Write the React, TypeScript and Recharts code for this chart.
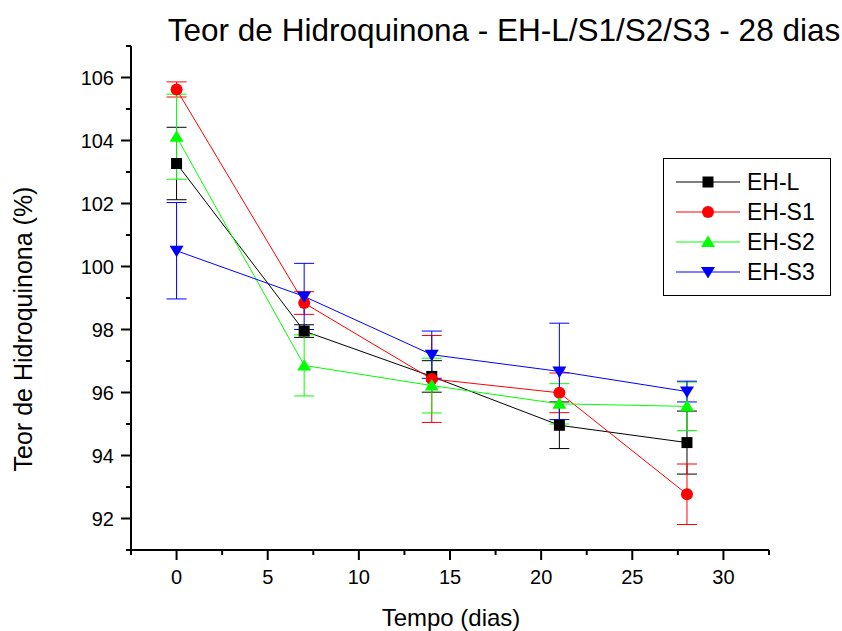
import React from "react";
import {
  LineChart,
  Line,
  XAxis,
  YAxis,
  ErrorBar,
  Legend,
  Label,
} from "recharts";

const days = [0, 7, 14, 21, 28];
const ehL = [103.27, 97.95, 96.51, 94.96, 94.41];
const ehLErr = [1.15, 0.2, 0.5, 0.74, 1.0];
const ehS1 = [105.62, 98.84, 96.43, 95.99, 92.77];
const ehS1Err = [0.24, 0.36, 1.38, 0.63, 0.96];
const ehS2 = [104.12, 96.86, 96.22, 95.64, 95.56];
const ehS2Err = [1.35, 0.97, 0.87, 0.64, 0.77];
const ehS3 = [100.5, 99.05, 97.2, 96.67, 96.03];
const ehS3Err = [1.53, 1.05, 0.75, 1.53, 0.33];

const xTicks = [-2.5, 0, 2.5, 5, 7.5, 10, 12.5, 15, 17.5, 20, 22.5, 25, 27.5, 30, 32.5];
const yTicks = [91, 92, 93, 94, 95, 96, 97, 98, 99, 100, 101, 102, 103, 104, 105, 106, 107];

const data = days.map((d, i) => ({
  day: d,
  ehL: ehL[i],
  ehLErr: ehLErr[i],
  ehS1: ehS1[i],
  ehS1Err: ehS1Err[i],
  ehS2: ehS2[i],
  ehS2Err: ehS2Err[i],
  ehS3: ehS3[i],
  ehS3Err: ehS3Err[i],
}));

const FONT = '"Liberation Sans", Arial, sans-serif';

const series = [
  { key: "ehL", name: "EH-L", color: "#000000", shape: "square" },
  { key: "ehS1", name: "EH-S1", color: "#FF0000", shape: "circle" },
  { key: "ehS2", name: "EH-S2", color: "#00FF00", shape: "up" },
  { key: "ehS3", name: "EH-S3", color: "#0000FF", shape: "down" },
];

function Marker({ cx, cy, shape, color }: { cx: number; cy: number; shape: string; color: string }) {
  if (cx == null || cy == null) return null;
  if (shape === "square")
    return <rect x={cx - 5.5} y={cy - 5.5} width={11} height={11} fill={color} />;
  if (shape === "circle") return <circle cx={cx} cy={cy} r={6} fill={color} />;
  if (shape === "up")
    return <polygon points={`${cx},${cy - 6.5} ${cx - 7},${cy + 5} ${cx + 7},${cy + 5}`} fill={color} />;
  return <polygon points={`${cx},${cy + 6.5} ${cx - 7},${cy - 5} ${cx + 7},${cy - 5}`} fill={color} />;
}

function XTick(props: any) {
  const { x, y, payload } = props;
  const major = payload.value % 5 === 0;
  return (
    <g>
      <line x1={x} x2={x} y1={y} y2={y + (major ? 10 : 5)} stroke="#000" strokeWidth={2} />
      {major && (
        <text x={x} y={y + 34} textAnchor="middle" fontSize={20} fontFamily={FONT} fill="#000">
          {payload.value}
        </text>
      )}
    </g>
  );
}

function YTick(props: any) {
  const { x, y, payload } = props;
  const major = payload.value % 2 === 0;
  return (
    <g>
      <line x1={x} x2={x - (major ? 10 : 5)} y1={y} y2={y} stroke="#000" strokeWidth={2} />
      {major && (
        <text x={x - 17} y={y + 7} textAnchor="end" fontSize={20} fontFamily={FONT} fill="#000">
          {payload.value}
        </text>
      )}
    </g>
  );
}

function LegendBox() {
  return (
    <svg width={169} height={139} style={{ display: "block" }}>
      <rect x={0.5} y={0.5} width={167} height={137} fill="#fff" stroke="#000" strokeWidth={1} />
      {series.map((s, i) => {
        const y = 24 + i * 30;
        return (
          <g key={s.key}>
            <line x1={13} x2={77} y1={y} y2={y} stroke={s.color} strokeWidth={1} />
            <Marker cx={45} cy={y} shape={s.shape} color={s.color} />
            <text x={84} y={y + 8} fontSize={23} fontFamily={FONT} fill="#000">
              {s.name}
            </text>
          </g>
        );
      })}
    </svg>
  );
}

export default function App() {
  return (
    <div style={{ position: "absolute", left: 0, top: 0, width: 842, height: 631, background: "#fff", fontFamily: FONT }}>
      <div
        style={{
          position: "absolute",
          left: 164,
          top: 15,
          width: 680,
          textAlign: "center",
          fontSize: 31.5,
          lineHeight: "31.5px",
          whiteSpace: "nowrap",
          color: "#000",
        }}
      >
        Teor de Hidroquinona - EH-L/S1/S2/S3 - 28 dias
      </div>
      <LineChart
        width={842}
        height={631}
        data={data}
        margin={{ top: 46, right: 73, bottom: 41, left: 71 }}
      >
        <XAxis
          dataKey="day"
          type="number"
          domain={[-2.5, 32.5]}
          ticks={xTicks}
          interval={0}
          height={40}
          tickSize={0}
          tickMargin={0}
          tick={<XTick />}
          tickLine={false}
          axisLine={{ stroke: "#000", strokeWidth: 2 }}
          allowDataOverflow
        >
          <Label
            content={({ viewBox }: any) => (
              <text
                x={viewBox.x + viewBox.width / 2 + 1}
                y={626}
                textAnchor="middle"
                fontSize={24}
                fontFamily={FONT}
                fill="#000"
              >
                Tempo (dias)
              </text>
            )}
          />
        </XAxis>
        <YAxis
          type="number"
          domain={[91, 107]}
          ticks={yTicks}
          interval={0}
          width={60}
          tickSize={0}
          tickMargin={0}
          tick={<YTick />}
          tickLine={false}
          axisLine={{ stroke: "#000", strokeWidth: 2 }}
          allowDataOverflow
        >
          <Label
            content={() => (
              <text
                x={32}
                y={329}
                transform="rotate(-90, 32, 329)"
                textAnchor="middle"
                fontSize={25}
                fontFamily={FONT}
                fill="#000"
              >
                Teor de Hidroquinona (%)
              </text>
            )}
          />
        </YAxis>
        <Legend
          content={() => <LegendBox />}
          layout="horizontal"
          verticalAlign="middle"
          align="center"
          wrapperStyle={{ position: "absolute", left: 663, top: 158, width: 169, height: 139 }}
        />
        {series.map((s) => (
          <Line
            key={s.key}
            dataKey={s.key}
            name={s.name}
            stroke={s.color}
            strokeWidth={1}
            isAnimationActive={false}
            dot={(p: any) => <Marker key={`${s.key}-${p.index}`} cx={p.cx} cy={p.cy} shape={s.shape} color={s.color} />}
            activeDot={false}
          >
            <ErrorBar
              dataKey={`${s.key}Err`}
              width={10}
              stroke={s.color}
              strokeWidth={1}
              direction="y"
              isAnimationActive={false}
            />
          </Line>
        ))}
      </LineChart>
    </div>
  );
}
